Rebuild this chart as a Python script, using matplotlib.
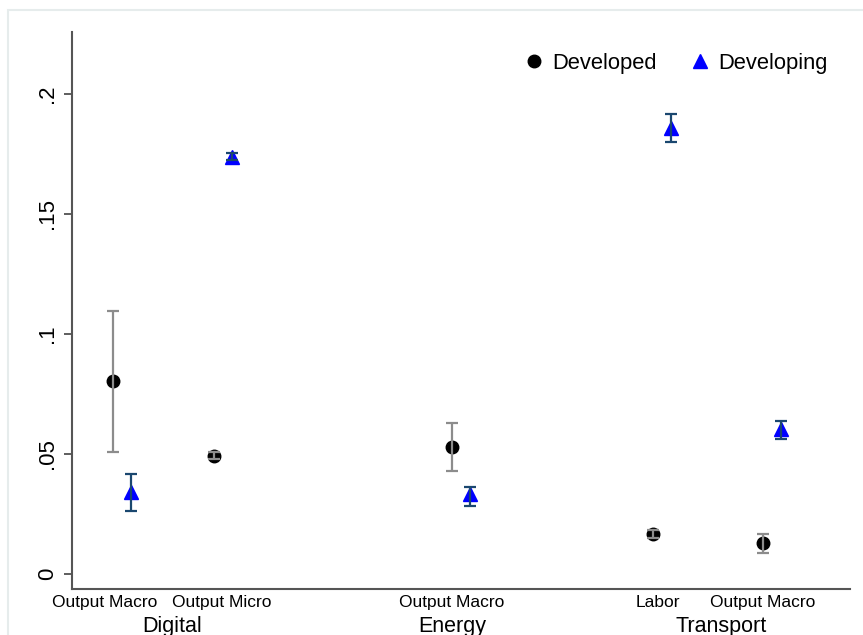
import matplotlib
matplotlib.use("Agg")
import matplotlib.pyplot as plt
from matplotlib.patches import Rectangle
from matplotlib.lines import Line2D

plt.rcParams['font.family'] = ['Liberation Sans', 'DejaVu Sans']

# categories on the x axis (position units ~ 100 px)
cat_labels = ["Output Macro", "Output Micro", "Output Macro", "Labor", "Output Macro"]
cat_pos = [1.0, 2.0, 4.356, 6.347, 7.436]
label_pos = [0.916, 2.079, 4.356, 6.396, 7.436]
groups = ["Digital", "Energy", "Transport"]
group_pos = [1.584, 4.356, 7.02]
offset = 0.183

# Developed
dev_est = [0.0804, 0.0493, 0.0529, 0.0167, 0.0128]
dev_lo = [0.0508, 0.0478, 0.0430, 0.0150, 0.0089]
dev_hi = [0.1097, 0.0508, 0.0628, 0.0184, 0.0165]
# Developing
dvg_est = [0.0342, 0.1739, 0.0333, 0.1860, 0.0604]
dvg_lo = [0.0263, 0.1725, 0.0283, 0.1799, 0.0561]
dvg_hi = [0.0418, 0.1753, 0.0361, 0.1917, 0.0637]

fig = plt.figure(figsize=(8.63, 6.35), dpi=100)
fig.patches.append(Rectangle((8 / 863, -0.1), 1.2, 1 - 10 / 635 + 0.1,
                             transform=fig.transFigure, fill=False,
                             edgecolor="#e6ecec", lw=1.5))
ax = fig.add_axes([72 / 863, 1 - 589 / 635, (850 - 72) / 863, (589 - 32) / 635])

x_dev = cat_pos
x_dvg = [p + offset for p in cat_pos]

ax.plot(x_dev, dev_est, "o", color="black", ms=9, zorder=2)
ax.plot(x_dvg, dvg_est, "^", color="#0000ff", ms=10, zorder=2)

# confidence intervals drawn over the markers
ax.errorbar(x_dev, dev_est,
            yerr=[[e - l for e, l in zip(dev_est, dev_lo)], [h - e for e, h in zip(dev_est, dev_hi)]],
            fmt="none", ecolor="#8c8c8c", elinewidth=1.6, capsize=4.3, capthick=1.6, zorder=3)
ax.errorbar(x_dvg, dvg_est,
            yerr=[[e - l for e, l in zip(dvg_est, dvg_lo)], [h - e for e, h in zip(dvg_est, dvg_hi)]],
            fmt="none", ecolor="#1a476f", elinewidth=1.6, capsize=4.3, capthick=1.6, zorder=3)

ax.set_xlim(0.594, 8.30)
ax.set_ylim(-0.00625, 0.2258)

ax.set_yticks([0, 0.05, 0.1, 0.15, 0.2])
ax.set_yticklabels(["0", ".05", ".1", ".15", ".2"], rotation=90, va="center", fontsize=16)
ax.tick_params(axis="y", length=6, width=1.1, color="#333333", pad=4)

ax.set_xticks(label_pos)
ax.set_xticklabels(cat_labels, fontsize=12.5)
ax.tick_params(axis="x", length=0, pad=4)

for g, gp in zip(groups, group_pos):
    ax.text(gp, -0.078, g, ha="center", va="baseline", fontsize=15.5,
            transform=ax.get_xaxis_transform())

for s in ["top", "right"]:
    ax.spines[s].set_visible(False)
for s in ["left", "bottom"]:
    ax.spines[s].set_color("#555555")
    ax.spines[s].set_linewidth(1.5)

handles = [Line2D([], [], marker="o", ls="none", color="black", ms=9),
           Line2D([], [], marker="^", ls="none", color="#0000ff", ms=10)]
ax.legend(handles, ["Developed", "Developing"], ncol=2, frameon=False,
          loc="upper right", bbox_to_anchor=(0.997, 0.998), fontsize=15.8,
          handletextpad=0.35, columnspacing=1.45, handlelength=1.0)

fig.savefig("out.png", dpi=100)
